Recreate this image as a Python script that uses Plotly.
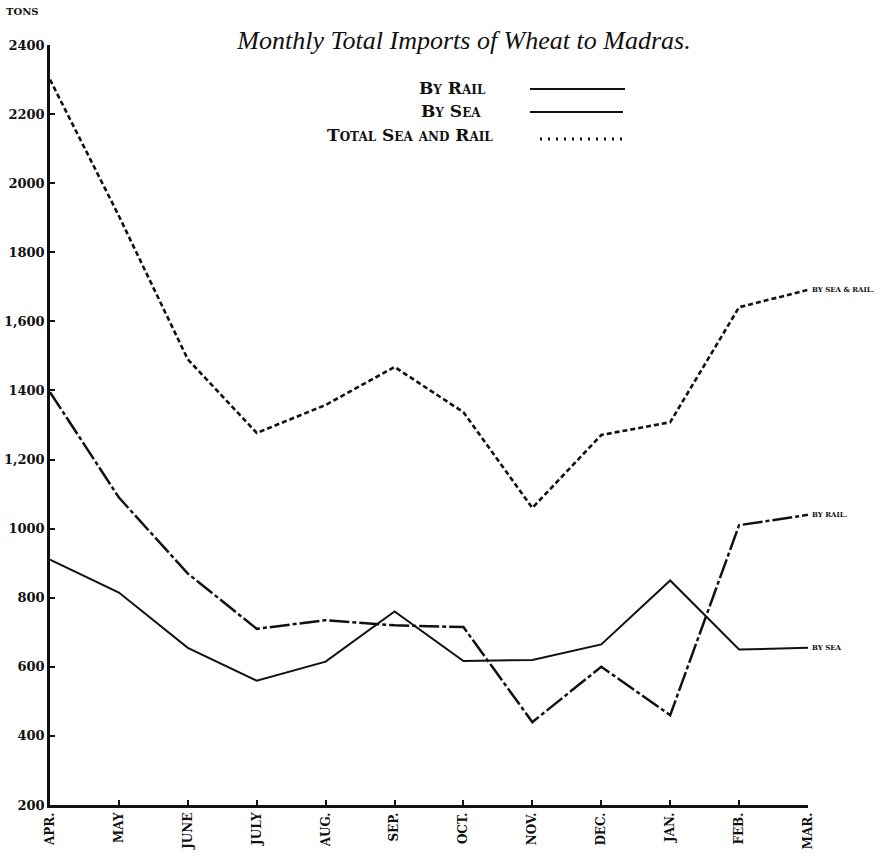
import plotly.graph_objects as go

# ---- data ----
months = ["APR.", "MAY", "JUNE", "JULY", "AUG.", "SEP.", "OCT.", "NOV.", "DEC.", "JAN.", "FEB.", "MAR."]
by_rail = [1395, 1090, 870, 710, 735, 720, 715, 440, 600, 460, 1010, 1040]
by_sea = [910, 815, 655, 560, 615, 760, 617, 620, 665, 850, 650, 655]
total_sea_rail = [2300, 1905, 1490, 1277, 1358, 1468, 1337, 1060, 1271, 1308, 1641, 1691]

y_tickvals = [200, 400, 600, 800, 1000, 1200, 1400, 1600, 1800, 2000, 2200, 2400]
y_ticktext = ["200", "400", "600", "800", "1000", "1,200", "1400", "1,600", "1800", "2000", "2200", "2400"]

end_labels = ["BY SEA & RAIL.", "BY RAIL.", "BY SEA"]

SERIF = "DejaVu Serif"
BLACK = "#111111"

fig = go.Figure()
fig.add_trace(go.Scatter(x=months, y=total_sea_rail, mode="lines", name="Total Sea and Rail",
                         line=dict(color=BLACK, width=2.6, dash="5px,3px")))
fig.add_trace(go.Scatter(x=months, y=by_rail, mode="lines", name="By Rail",
                         line=dict(color=BLACK, width=2.5, dash="20px,3px,4px,3px")))
fig.add_trace(go.Scatter(x=months, y=by_sea, mode="lines", name="By Sea",
                         line=dict(color=BLACK, width=2)))

# end labels attached to last data points
for lab, series in zip(end_labels, [total_sea_rail, by_rail, by_sea]):
    fig.add_annotation(x=months[-1], y=series[-1], text=lab, showarrow=False,
                       xanchor="left", yanchor="middle", xshift=2,
                       font=dict(family=SERIF, size=7, color=BLACK, weight="bold"))

# legend drawn like the original: text then a sample line
def px_x(p):
    return (p - 50) / 758.0

def px_y(p):
    return (805 - p) / 760.0

legend_items = [
    ("By Rail", 417, 88, 530, 625, 89, "solid"),
    ("By Sea", 419, 111, 530, 623, 112, "solid"),
    ("Total Sea and Rail", 325, 135, 540, 627, 139, "dot"),
]
for text, tx, ty, x0, x1, ly, dash in legend_items:
    fig.add_annotation(x=px_x(tx), y=px_y(ty), xref="paper", yref="paper", text=text,
                       showarrow=False, xanchor="left", yanchor="middle",
                       font=dict(family=SERIF, size=17, color=BLACK, weight="bold", variant="small-caps"))
    fig.add_shape(type="line", xref="paper", yref="paper", x0=px_x(x0), x1=px_x(x1),
                  y0=px_y(ly), y1=px_y(ly),
                  line=dict(color=BLACK, width=2.2 if dash == "solid" else 2.8,
                            dash="solid" if dash == "solid" else "2px,6px"))

fig.add_annotation(x=px_x(22), y=px_y(12), xref="paper", yref="paper", text="TONS",
                   showarrow=False, xanchor="center", yanchor="middle",
                   font=dict(family=SERIF, size=10, color=BLACK, weight="bold"))

fig.update_layout(
    width=892, height=865,
    margin=dict(l=50, r=84, t=45, b=60),
    paper_bgcolor="white", plot_bgcolor="white",
    showlegend=False,
    title=dict(text="<i>Monthly Total Imports of Wheat to Madras.</i>",
               x=464 / 892, xanchor="center", y=1 - 40 / 865, yanchor="middle",
               font=dict(family="Liberation Serif", size=26, color=BLACK)),
    xaxis=dict(type="category", range=[0, 11], showgrid=False, zeroline=False,
               automargin=False,
               showline=True, linecolor=BLACK, linewidth=2.5,
               ticks="inside", ticklen=5, tickwidth=1.5, tickcolor=BLACK,
               tickangle=-90,
               tickfont=dict(family=SERIF, size=12, color=BLACK, weight="bold")),
    yaxis=dict(range=[200, 2400], showgrid=False, zeroline=False,
               automargin=False,
               showline=True, linecolor=BLACK, linewidth=2.5,
               tickvals=y_tickvals, ticktext=y_ticktext,
               ticks="inside", ticklen=5, tickwidth=1.5, tickcolor=BLACK,
               tickfont=dict(family=SERIF, size=13, color=BLACK, weight="bold")),
)

fig.write_html("out.html", config={"displayModeBar": False},
               post_script="document.body.style.margin='0';")
